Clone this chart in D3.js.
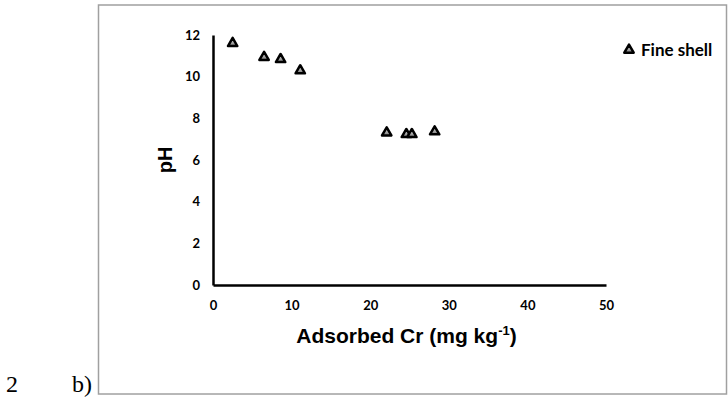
<!DOCTYPE html>
<html>
<head>
<meta charset="utf-8">
<script src="https://cdn.jsdelivr.net/npm/d3@7"></script>
<style>
  body { margin: 0; background: #fff; }
  svg text { fill: #000; }
</style>
</head>
<body>
<div id="graphic"></div>
<script>
// Chart data
var cr = [2.5, 6.5, 8.6, 11.1, 22.1, 24.6, 25.3, 28.2];
var ph = [11.6, 10.93, 10.83, 10.29, 7.31, 7.23, 7.23, 7.36];
var xTicks = [0, 10, 20, 30, 40, 50];
var yTicks = [0, 2, 4, 6, 8, 10, 12];
var seriesName = 'Fine shell';

var width = 728, height = 398;
var margins = { top: 35, left: 213 };

var svg = d3.select('#graphic').append('svg')
    .attr('width', width)
    .attr('height', height);

// gradient for markers
var grad = svg.append('defs').append('linearGradient')
    .attr('id', 'tri-fill')
    .attr('x1', 0).attr('y1', 0).attr('x2', 0).attr('y2', 1);
grad.append('stop').attr('offset', '0%').attr('stop-color', '#e6e6e6');
grad.append('stop').attr('offset', '100%').attr('stop-color', '#7a7a7a');

// outer frame of the figure
svg.append('rect')
    .attr('x', 98.5).attr('y', 5)
    .attr('width', 628).attr('height', 389)
    .attr('fill', 'none')
    .attr('stroke', '#a0a0a0')
    .attr('stroke-width', 1.5);

// figure caption bits
var serif = '"Liberation Serif", "Times New Roman", serif';
svg.append('text')
    .attr('x', 6).attr('y', 392)
    .style('font-family', serif)
    .style('font-size', '24px')
    .text('2');
svg.append('text')
    .attr('x', 72).attr('y', 392)
    .style('font-family', serif)
    .style('font-size', '24px')
    .text('b)');

var x = d3.scaleLinear().domain([0, 50]).range([0, 393]);
var y = d3.scaleLinear().domain([0, 12]).range([250, 0]);

var chart = svg.append('g')
    .attr('transform', 'translate(' + margins.left + ',' + margins.top + ')');

var tickFont = 'Lato, "Open Sans", sans-serif';

var xAxis = chart.append('g')
    .attr('transform', 'translate(0,250)')
    .call(d3.axisBottom(x).tickValues(xTicks).tickSize(0).tickPadding(16));
var yAxis = chart.append('g')
    .call(d3.axisLeft(y).tickValues(yTicks).tickSize(0).tickPadding(13));

[xAxis, yAxis].forEach(function(a) {
    a.select('.domain').attr('stroke', '#000').attr('stroke-width', 2.5);
    a.selectAll('text')
        .style('font-family', tickFont)
        .style('font-weight', 'bold')
        .style('font-size', '13px');
});

// axis titles
chart.append('text')
    .attr('x', x(25) - 3)
    .attr('y', 308)
    .attr('text-anchor', 'middle')
    .style('font-family', '"Liberation Sans", Arial, sans-serif')
    .style('font-weight', 'bold')
    .style('font-size', '21px')
    .html('Adsorbed Cr (mg kg<tspan dy="-8" style="font-size:13px">-1</tspan><tspan dy="8">)</tspan>');

chart.append('text')
    .attr('transform', 'translate(-41,125) rotate(-90)')
    .attr('text-anchor', 'middle')
    .style('font-family', '"Liberation Sans", Arial, sans-serif')
    .style('font-weight', 'bold')
    .style('font-size', '20px')
    .text('pH');

// markers
var tri = d3.symbol().type(d3.symbolTriangle).size(38);
chart.selectAll('.pt')
    .data(cr)
    .enter().append('path')
    .attr('class', 'pt')
    .attr('transform', function(d, i) { return 'translate(' + x(d) + ',' + y(ph[i]) + ')'; })
    .attr('d', tri)
    .attr('fill', 'url(#tri-fill)')
    .attr('stroke', '#000')
    .attr('stroke-width', 2.5)
    .attr('stroke-linejoin', 'round');

// legend
var legend = svg.append('g').attr('transform', 'translate(629,50)');
legend.append('path')
    .attr('d', tri)
    .attr('fill', 'url(#tri-fill)')
    .attr('stroke', '#000')
    .attr('stroke-width', 2.5)
    .attr('stroke-linejoin', 'round');
legend.append('text')
    .attr('x', 12).attr('y', 5.5)
    .style('font-family', tickFont)
    .style('font-weight', 'bold')
    .style('font-size', '17px')
    .text(seriesName);
</script>
</body>
</html>
